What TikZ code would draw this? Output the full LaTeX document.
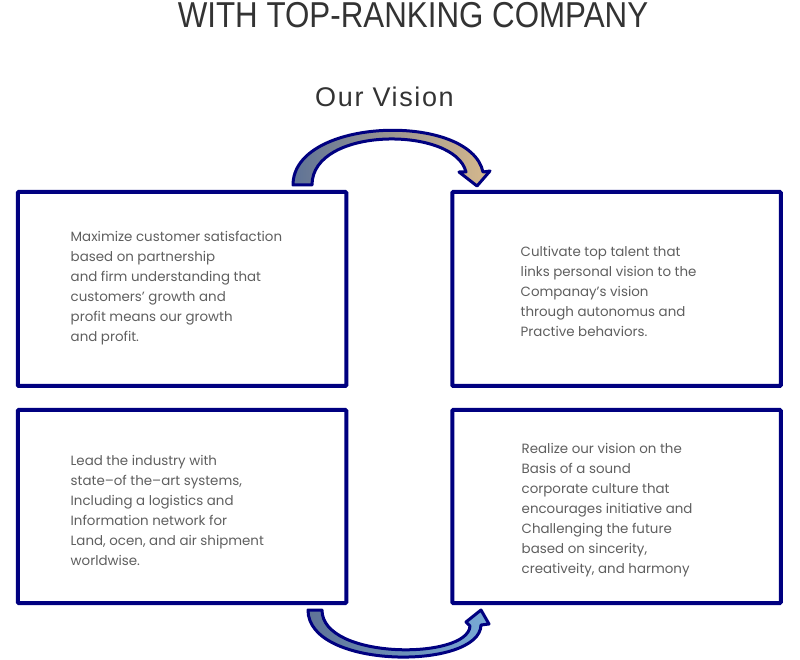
\documentclass[tikz,border=0pt]{standalone}
\usepackage{fontspec}
\setmainfont{Liberation Sans}
\newfontfamily\bodyfont{Poppins}
\definecolor{navy}{RGB}{0,0,128}
\definecolor{titlegray}{RGB}{51,51,51}
\definecolor{bodygray}{RGB}{95,95,95}
\definecolor{bandblue}{RGB}{95,115,150}
\definecolor{bandtan}{RGB}{215,185,140}
\definecolor{bandlight}{RGB}{120,170,215}
\begin{document}
\begin{tikzpicture}[x=1pt,y=1pt,
  box/.style={draw=navy, line width=4pt, rounded corners=1pt, minimum width=328.5pt, minimum height=194pt, inner sep=0pt},
  body/.style={font=\bodyfont\fontsize{13.4}{20}\selectfont, text=bodygray, align=left, anchor=base west, inner sep=0pt},
  band/.style={draw=navy, line width=3pt, line join=round}]
\useasboundingbox (0,0) rectangle (800,659);
\fill[white] (0,0) rectangle (800,659);
% title
\node[anchor=base, inner sep=0pt, text=titlegray, font=\fontsize{36}{40}\selectfont] (title) at (413,631) {\scalebox{0.87}[1]{WITH TOP-RANKING COMPANY}};
\node[anchor=base, inner sep=0pt, text=titlegray, font=\fontsize{27}{30}\selectfont\addfontfeature{LetterSpace=6}] (vision) at (384.5,552) {Our Vision};
% boxes
\node[box] (b1) at (182,370) {};
\node[box] (b2) at (616.5,370) {};
\node[box, minimum height=193pt] (b3) at (182,152.5) {};
\node[box, minimum height=193pt] (b4) at (616.5,152.5) {};
% texts (anchor = baseline of the last line)
\node[body] (t1) at (70.5,317) {Maximize customer satisfaction\\based on partnership\\and firm understanding that\\customers’ growth and\\profit means our growth\\and profit.};
\node[body] (t2) at (520.5,322) {Cultivate top talent that\\links personal vision to the\\Companay’s vision\\through autonomus and\\Practive behaviors.};
\node[body] (t3) at (70.5,94) {Lead the industry with\\state–of the–art systems,\\Including a logistics and\\Information network for\\Land, ocen, and air shipment\\worldwise.};
\node[body] (t4) at (521.5,86) {Realize our vision on the\\Basis of a sound\\corporate culture that\\encourages initiative and\\Challenging the future\\based on sincerity,\\creativeity, and harmony};
% top curved arrow
\draw[band, left color=bandblue, right color=bandtan]
  (293,474) .. controls (293,542) and (470,547) .. (483,487)
  -- (490,488) -- (477,473) -- (459,487) -- (466,487)
  .. controls (455,533) and (312,533) .. (312,474) -- cycle;
% bottom curved arrow
\draw[band, left color=bandblue, right color=bandlight]
  (308,49) .. controls (308,-11) and (480,-11) .. (481,34)
  -- (489,35) -- (481,49) -- (466,37) -- (470,33)
  .. controls (468,-1) and (322,-1) .. (322,49) -- cycle;
\end{tikzpicture}
\end{document}
